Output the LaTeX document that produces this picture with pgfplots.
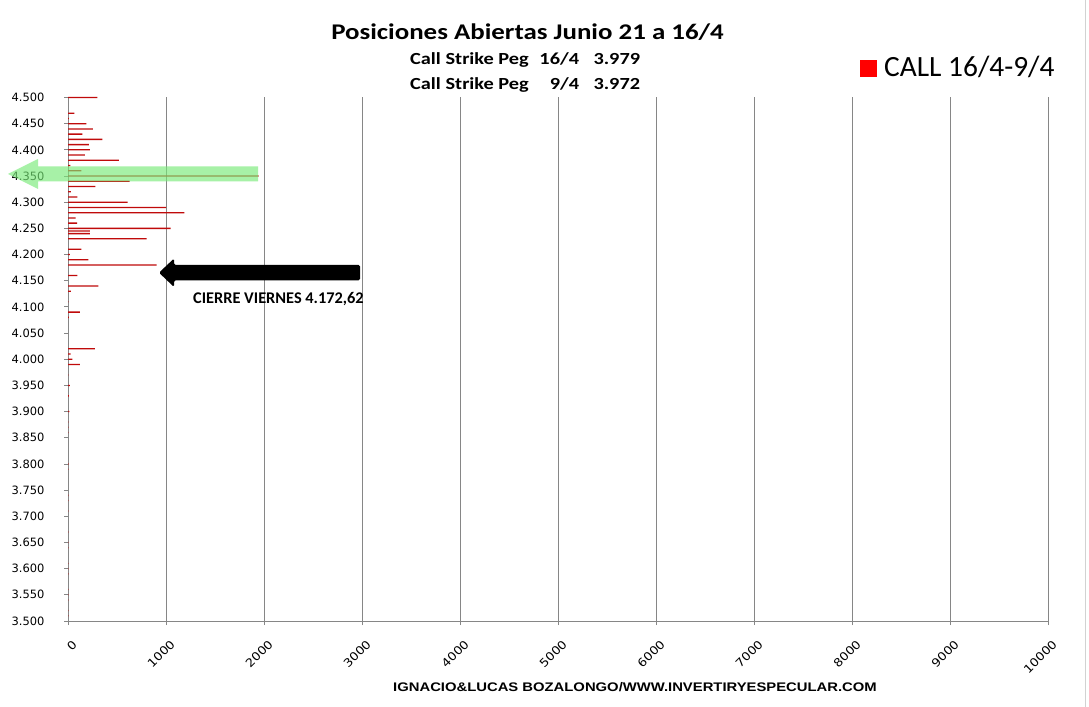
\documentclass[border=0pt]{standalone}
\usepackage{fontspec}
\setmainfont{Carlito}
\newfontfamily\wide[FakeStretch=1.2]{Carlito}
\newfontfamily\dejavu{DejaVu Sans}
\newfontfamily\dejavuwide[FakeStretch=1.13]{DejaVu Sans}
\newfontfamily\arialwide[FakeStretch=1.19]{Liberation Sans}
\usepackage{pgfplots}
\pgfplotsset{compat=1.18}
\usepackage{pgfplotstable}
\definecolor{barred}{RGB}{192,10,10}
\definecolor{gridgray}{RGB}{134,134,134}
\definecolor{arrowgreen}{RGB}{120,235,120}
\pgfplotstableread{
val strike
300 4500
65 4470
8 4460
188 4450
253 4440
147 4430
352 4420
212 4410
222 4400
171 4390
519 4380
25 4370
137 4360
1945 4350
628 4340
280 4330
30 4320
96 4310
608 4300
1000 4290
1187 4280
79 4270
92 4260
1048 4250
222 4245
222 4240
802 4230
137 4210
20 4200
209 4190
905 4180
96 4160
311 4140
30 4130
5 4110
120 4090
8 4080
273 4020
28 4010
45 4000
120 3990
5 3970
20 3950
10 3930
15 3900
5 3880
5 3870
5 3860
6 3800
5 3790
4 3740
5 3730
4 3710
5 3670
5 3650
4 3640
5 3610
5 3600
4 3590
5 3560
5 3550
4 3540
5 3520
5 3510
}\calldata
\begin{document}
\begin{tikzpicture}
\path[use as bounding box] (0,0) rectangle (1089bp,707bp);
\fill[white] (0,0) rectangle (1089bp,707bp);
\begin{axis}[
  at={(68bp,86bp)}, anchor=south west,
  scale only axis, width=980bp, height=523.5bp,
  xmin=0, xmax=10000, ymin=3500, ymax=4500,
  xtick={0,1000,...,10000}, ytick={3500,3550,...,4500},
  scaled x ticks=false, scaled y ticks=false,
  axis x line*=bottom, axis y line*=left,
  axis line style={-, draw=gridgray, line width=0.9bp},
  every outer x axis line/.append style={-},
  every outer y axis line/.append style={-},
  xmajorgrids, major grid style={draw=gridgray, line width=0.9bp},
  tick align=outside, major tick length=4bp,
  tick style={draw=gridgray, line width=0.8bp},
  /pgf/number format/assume math mode=true,
  yticklabel style={font=\dejavu\fontsize{11.5}{13}\selectfont, xshift=-16bp, /pgf/number format/1000 sep={.}, /pgf/number format/fixed},
  xticklabel style={font=\dejavuwide\fontsize{11.5}{13}\selectfont, rotate=45, anchor=east, xshift=-4bp, yshift=-17bp, /pgf/number format/1000 sep={}},
  clip=false,
]
\addplot[xbar, bar width=1.3bp, draw=none, fill=barred, forget plot] table[x=val, y=strike] {\calldata};
\end{axis}
% green arrow
\fill[arrowgreen, opacity=0.65] (8bp,533bp) -- (38bp,548bp) -- (38bp,540.5bp) -- (258bp,540.5bp) -- (258bp,525.5bp) -- (38bp,525.5bp) -- (38bp,518bp) -- cycle;
% black arrow
\fill[black, rounded corners=1.5bp] (159bp,434.3bp) -- (174bp,448.5bp) -- (174bp,442bp) -- (360bp,442bp) -- (360bp,426.5bp) -- (174bp,426.5bp) -- (174bp,420bp) -- cycle;
\node[anchor=base west, inner sep=0pt, font=\bfseries\fontsize{16.4}{18}\selectfont] at (193bp,403bp) {CIERRE VIERNES 4.172,62};
% titles
\node[anchor=base, inner sep=0pt, font=\wide\bfseries\fontsize{22.5}{26}\selectfont] at (527.5bp,667.7bp) {Posiciones Abiertas Junio 21 a 16/4};
\node[anchor=base west, inner sep=0pt, font=\wide\bfseries\fontsize{17}{19}\selectfont] at (410bp,642bp) {Call Strike Peg};
\node[anchor=base east, inner sep=0pt, font=\wide\bfseries\fontsize{17}{19}\selectfont] at (579.3bp,642bp) {16/4};
\node[anchor=base west, inner sep=0pt, font=\wide\bfseries\fontsize{17}{19}\selectfont] at (593.3bp,642bp) {3.979};
\node[anchor=base west, inner sep=0pt, font=\wide\bfseries\fontsize{17}{19}\selectfont] at (410bp,617bp) {Call Strike Peg};
\node[anchor=base east, inner sep=0pt, font=\wide\bfseries\fontsize{17}{19}\selectfont] at (579.3bp,617bp) {9/4};
\node[anchor=base west, inner sep=0pt, font=\wide\bfseries\fontsize{17}{19}\selectfont] at (593.3bp,617bp) {3.972};
% legend
\fill[red] (860bp,630bp) rectangle (877bp,647bp);
\node[anchor=base west, inner sep=0pt, font=\fontsize{29.5}{33}\selectfont] at (884bp,630.3bp) {CALL 16/4-9/4};
% footer
\node[anchor=base west, inner sep=0pt, font=\arialwide\bfseries\fontsize{12.5}{14}\selectfont] at (393bp,15.3bp) {IGNACIO\&LUCAS BOZALONGO/WWW.INVERTIRYESPECULAR.COM};
% frame line
\draw[gray!35, line width=0.8bp] (1085bp,0) -- (1085bp,707bp);
\end{tikzpicture}
\end{document}
